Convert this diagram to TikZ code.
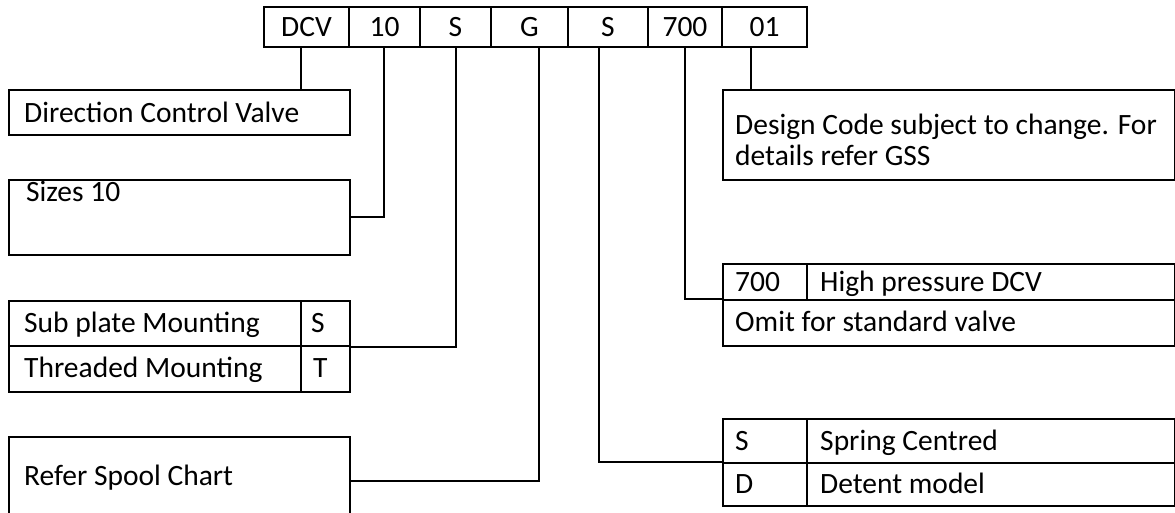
\documentclass[tikz,border=0pt]{standalone}
\usepackage{fontspec}
\setmainfont{Carlito}

\tikzset{
  cell/.style={draw, line width=1.9pt, minimum height=40pt, inner sep=0pt,
    font=\fontsize{29.5}{31}\selectfont},
  box/.style={draw, line width=1.9pt, inner sep=0pt, anchor=north west},
  lbl/.style={anchor=west, inner sep=0pt, text height=19pt, text depth=6pt,
    font=\fontsize{29.5}{31}\selectfont},
  wire/.style={line width=1.9pt}
}

\begin{document}
\begin{tikzpicture}[x=1pt, y=-1pt]
    \useasboundingbox (0,0) rectangle (1175,513);
    \clip (0,0) rectangle (1175,513);

    % code row
    \foreach \name/\l/\r/\txt in {dcv/264/349/DCV, size/349/420/10, mount/420/491/S,
        spool/491/568/G, centre/568/648/S, press/648/722/700, design/722/807/01} {
        \node[cell, minimum width=\r-\l] (\name) at ({(\l+\r)/2},27) {\txt};
    }
    \coordinate (ldcv)    at (301,47);
    \coordinate (lsize)   at (384,47);
    \coordinate (lmount)  at (456,47);
    \coordinate (lspool)  at (539,47);
    \coordinate (lcentre) at (599,47);
    \coordinate (lpress)  at (685,47);
    \coordinate (ldesign) at (751,47);

    % left side
    \node[box, minimum width=341, minimum height=45] (dirbox) at (8,89) {};
    \node[lbl] (dirtxt) at (24,116) {Direction Control Valve};

    \node[box, minimum width=341, minimum height=75] (sizebox) at (8,179) {};
    \node[lbl] (sizetxt) at (26,195) {Sizes 10};

    \node[box, minimum width=341, minimum height=45] (subrow) at (8,300) {};
    \node[box, minimum width=341, minimum height=46] (threadrow) at (8,345) {};
    \draw[wire] (301,300) -- (301,391);
    \node[lbl] (subtxt) at (24,326) {Sub plate Mounting};
    \node[lbl] (subkey) at (311,326) {S};
    \node[lbl] (threadtxt) at (24,371) {Threaded Mounting};
    \node[lbl] (threadkey) at (313,371) {T};

    \node[box, minimum width=341, minimum height=88] (spoolbox) at (8,436) {};
    \node[lbl] (spooltxt) at (24,479) {Refer Spool Chart};

    % right side
    \node[box, minimum width=452, minimum height=90] (designbox) at (722,89) {};
    \node[lbl] (designtxt) at (735,128) {Design Code subject to change. For};
    \node[lbl] (designmore) at (735,159) {details refer GSS};

    \node[box, minimum width=452, minimum height=36] (pressrow) at (722,263) {};
    \node[box, minimum width=452, minimum height=46] (omitrow) at (722,299) {};
    \draw[wire] (807,263) -- (807,299);
    \node[lbl] (presskey) at (735,285) {700};
    \node[lbl] (presstxt) at (820,285) {High pressure DCV};
    \node[lbl] (omittxt) at (735,325) {Omit for standard valve};

    \node[box, minimum width=452, minimum height=44] (springrow) at (722,418) {};
    \node[box, minimum width=452, minimum height=43] (detentrow) at (722,462) {};
    \draw[wire] (807,418) -- (807,505);
    \node[lbl] (springkey) at (735,444) {S};
    \node[lbl] (springtxt) at (820,444) {Spring Centred};
    \node[lbl] (detentkey) at (735,487) {D};
    \node[lbl] (detenttxt) at (820,487) {Detent model};

    % connectors
    \draw[wire] (ldcv) -- (ldcv |- dirbox.north);
    \draw[wire] (sizebox.east) -| (lsize);
    \draw[wire] (subrow.south east) -| (lmount);
    \draw[wire] (spoolbox.east) -| (lspool);
    \draw[wire] (lcentre) |- (detentrow.north west);
    \draw[wire] (lpress) |- (omitrow.north west);
    \draw[wire] (ldesign) -- (ldesign |- designbox.north);
\end{tikzpicture}
\end{document}
